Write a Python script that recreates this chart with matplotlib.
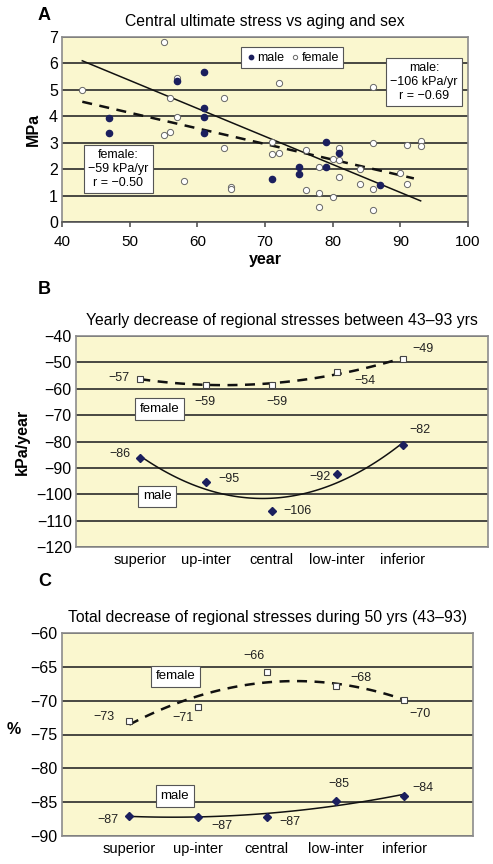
#!/usr/bin/env python3
"""
Regional ultimate stress vs age and sex -- three stacked panels
"""
import numpy as np
import matplotlib
matplotlib.use('Agg')
import matplotlib.pyplot as plt

plt.rcParams['font.family'] = ['Liberation Sans', 'DejaVu Sans']

# Panel A: central ultimate stress (MPa) vs age (years)
male_age = [47, 47, 57, 61, 61, 61, 61, 71, 75, 75, 79, 79, 81, 87]
male_mpa = [3.92, 3.38, 5.32, 5.67, 4.3, 3.96, 3.38, 1.61, 2.07, 1.83, 3.04, 2.07, 2.61, 1.40]
female_age = [43, 55, 56, 57, 57, 55, 56, 58, 64, 64, 65, 65,
              72, 86, 71, 71, 72, 76, 81, 80, 81, 78, 84, 81,
              86, 91, 93, 93, 90, 91, 84, 86, 76, 78, 80, 78, 86]
female_mpa = [4.99, 6.81, 4.70, 5.45, 3.97, 3.31, 3.41, 1.57, 4.70, 2.80, 1.33, 1.23,
              5.26, 5.11, 3.04, 2.57, 2.62, 2.72, 2.81, 2.38, 2.36, 2.07, 2.00, 1.71,
              2.98, 2.93, 3.07, 2.88, 1.86, 1.45, 1.45, 1.26, 1.21, 1.11, 0.96, 0.55, 0.47]
male_fit_x = [43, 93]
male_fit_y = [6.1, 0.8]
female_fit_x = [43, 92]
female_fit_y = [4.55, 1.65]

# Panels B and C: regions
regions = ['superior', 'up-inter', 'central', 'low-inter', 'inferior']
yearly_male = [-86.2, -95.2, -106.3, -92.2, -81.4]
yearly_female = [-56.2, -58.6, -58.6, -53.5, -48.7]
yearly_male_lbl = ['\u221286', '\u221295', '\u2212106', '\u221292', '\u221282']
yearly_female_lbl = ['\u221257', '\u221259', '\u221259', '\u221254', '\u221249']
total_male = [-87.0, -87.2, -87.2, -84.8, -84.1]
total_female = [-73.0, -70.9, -65.8, -67.9, -69.9]
total_male_lbl = ['\u221287', '\u221287', '\u221287', '\u221285', '\u221284']
total_female_lbl = ['\u221273', '\u221271', '\u221266', '\u221268', '\u221270']

BG = '#faf7cf'
NAVY = '#1b1f5e'
GRID = '#2a2a2a'
FRAME = '#8c8c8c'
W, H = 493, 864


def style_axes(ax):
    ax.set_facecolor(BG)
    for s in ax.spines.values():
        s.set_color(FRAME)
        s.set_linewidth(1.2)
    ax.yaxis.grid(True, color=GRID, linewidth=1.2)
    ax.set_axisbelow(True)
    ax.tick_params(axis='x', labelsize=10.5, length=0, pad=4)
    ax.tick_params(axis='y', labelsize=11.5, length=0, pad=3)


def box_text(ax, x, y, s, size=8.5):
    ax.text(x, y, s, ha='center', va='center', fontsize=size, zorder=6,
            bbox=dict(boxstyle='square,pad=0.35', fc='white', ec='#555555', lw=0.8))


def label_points(ax, xs, ys, labels, offsets):
    for x, y, s, (dx, dy) in zip(xs, ys, labels, offsets):
        ax.annotate(s, (x, y), xytext=(dx, dy), textcoords='offset pixels',
                    ha='center', va='center', fontsize=9, color='#222222')


def trend(ax, xs, ys, **kw):
    c = np.polyfit(xs, ys, 2)
    xx = np.linspace(xs[0], xs[-1], 100)
    ax.plot(xx, np.polyval(c, xx), color='#111111', zorder=3, **kw)


def minus_labels(vals):
    return [str(v).replace('-', '\u2212') for v in vals]


def main():
    fig = plt.figure(figsize=(W / 100, H / 100), dpi=100)

    # ---------- A ----------
    axA = fig.add_axes([62 / W, 1 - 222 / H, 406 / W, 185 / H])
    style_axes(axA)
    axA.set_xlim(40, 100)
    axA.set_ylim(0, 7)
    axA.set_xticks(range(40, 101, 10))
    axA.set_yticks(range(0, 8))
    axA.spines['bottom'].set_color('#555555')
    axA.tick_params(axis='x', labelsize=11, length=3.5, width=1.2, color='#555555',
                    direction='out', pad=6)
    axA.plot(male_fit_x, male_fit_y, color='#111111', lw=1.1, zorder=3)
    axA.plot(female_fit_x, female_fit_y, color='#111111', lw=1.8, ls=(0, (4, 3)), zorder=3)
    fem = axA.scatter(female_age, female_mpa, s=20, facecolor='white', edgecolor='#666666',
                      linewidth=0.7, zorder=4, label='female')
    mal = axA.scatter(male_age, male_mpa, s=20, facecolor=NAVY, edgecolor=NAVY, zorder=5,
                      label='male')
    leg = axA.legend(handles=[mal, fem], ncol=2, loc='center',
                     bbox_to_anchor=(0.567, 0.889), fontsize=9, fancybox=False,
                     edgecolor='#555555', framealpha=1, markerscale=0.7,
                     handletextpad=0.1, columnspacing=0.5, handlelength=0.8,
                     borderpad=0.35)
    leg.get_frame().set_linewidth(0.8)
    leg.set_zorder(7)
    axA.set_xlabel('year', fontsize=11.5, fontweight='bold', labelpad=2)
    axA.set_ylabel('MPa', fontsize=11.5, fontweight='bold', labelpad=6)
    axA.set_title('Central ultimate stress vs aging and sex', fontsize=11.3, pad=8)
    box_text(axA, 93.5, 5.3, 'male:\n\u2212106 kPa/yr\nr = \u22120.69', size=9)
    box_text(axA, 48.3, 2.0, 'female:\n\u221259 kPa/yr\nr = \u22120.50', size=9)
    fig.text(38 / W, 1 - 15 / H, 'A', fontsize=13, fontweight='bold', va='center')

    # ---------- B ----------
    x = np.arange(1, 6)
    axB = fig.add_axes([76 / W, 1 - 547 / H, 412 / W, 211 / H])
    style_axes(axB)
    axB.set_xlim(0.02, 6.3)
    axB.set_ylim(-120, -40)
    axB.set_yticks(range(-120, -39, 10))
    axB.set_yticklabels(minus_labels(range(-120, -39, 10)))
    axB.set_xticks(x)
    axB.set_xticklabels(regions)
    trend(axB, x, yearly_female, lw=1.8, ls=(0, (4, 3)))
    trend(axB, x, yearly_male, lw=1.1)
    axB.plot(x, yearly_female, 's', ms=5, mfc='white', mec='#444444', mew=0.8, zorder=5)
    axB.plot(x, yearly_male, 'D', ms=4.5, mfc=NAVY, mec=NAVY, zorder=5)
    label_points(axB, x, yearly_female, yearly_female_lbl,
                 [(-21, 1), (-1, -17), (5, -17), (28, -9), (20, 10)])
    label_points(axB, x, yearly_male, yearly_male_lbl,
                 [(-20, 4), (23, 3), (26, 0), (-17, -3), (17, 15)])
    box_text(axB, 1.29, -67.7, 'female', size=9.5)
    box_text(axB, 1.26, -100.8, 'male', size=9.5)
    axB.set_ylabel('kPa/year', fontsize=11.5, fontweight='bold', labelpad=4)
    axB.set_title('Yearly decrease of regional stresses between 43\u201393 yrs',
                  fontsize=11.3, pad=8)
    fig.text(38 / W, 1 - 289 / H, 'B', fontsize=13, fontweight='bold', va='center')

    # ---------- C ----------
    axC = fig.add_axes([62 / W, 1 - 836 / H, 411 / W, 203 / H])
    style_axes(axC)
    axC.set_xlim(0.02, 6.0)
    axC.set_ylim(-90, -60)
    axC.set_yticks(range(-90, -59, 5))
    axC.set_yticklabels(minus_labels(range(-90, -59, 5)))
    axC.set_xticks(x)
    axC.set_xticklabels(regions)
    trend(axC, x, total_female, lw=1.8, ls=(0, (4, 3)))
    trend(axC, x, total_male, lw=1.1)
    axC.plot(x, total_female, 's', ms=5, mfc='white', mec='#444444', mew=0.8, zorder=5)
    axC.plot(x, total_male, 'D', ms=4.5, mfc=NAVY, mec=NAVY, zorder=5)
    label_points(axC, x, total_female, total_female_lbl,
                 [(-25, 4), (-15, -11), (-13, 16), (25, 8), (16, -14)])
    label_points(axC, x, total_male, total_male_lbl,
                 [(-21, -4), (24, -9), (23, -5), (3, 17), (19, 8)])
    box_text(axC, 1.67, -66.4, 'female', size=9.5)
    box_text(axC, 1.66, -84.1, 'male', size=9.5)
    axC.set_title('Total decrease of regional stresses during 50 yrs (43\u201393)',
                  fontsize=11.3, pad=8)
    fig.text(7 / W, 1 - 730 / H, '%', fontsize=11.5, fontweight='bold', va='center')
    fig.text(38 / W, 1 - 582 / H, 'C', fontsize=13, fontweight='bold', va='center')

    fig.savefig('out.png', dpi=100)


if __name__ == '__main__':
    main()
